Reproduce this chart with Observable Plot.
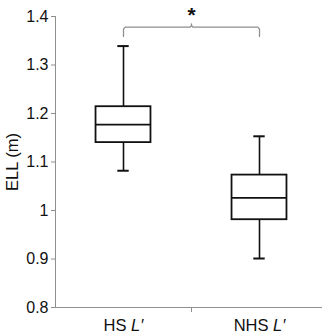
<!DOCTYPE html>
<html>
<head>
<meta charset="utf-8">
<script src="https://cdn.jsdelivr.net/npm/d3@7"></script>
<script src="https://cdn.jsdelivr.net/npm/@observablehq/plot@0.6"></script>
<style>
  html, body { margin: 0; padding: 0; background: #fff; }
  #chart svg { display: block; font-family: "Liberation Sans", Arial, sans-serif; }
</style>
</head>
<body>
<div id="chart"></div>
<script>
// ---- data ----
const categories = ["HS L′", "NHS L′"];
const whiskerLow  = [1.082, 0.901];
const q1          = [1.140, 0.981];
const median      = [1.177, 1.026];
const q3          = [1.214, 1.073];
const whiskerHigh = [1.339, 1.153];
const yTicks      = [0.8, 0.9, 1.0, 1.1, 1.2, 1.3, 1.4];
const yTickLabels = ["0.8", "0.9", "1", "1.1", "1.2", "1.3", "1.4"];
const comparisons = [{from: 0, to: 1, label: "*"}];
const yLabel = "ELL (m)";

// ---- build table ----
const boxes = categories.map((c, i) => ({
  cat: c, pos: i + 0.5,
  lo: whiskerLow[i], q1: q1[i], med: median[i], q3: q3[i], hi: whiskerHigh[i]
}));

const boxHalf = 0.202, capHalf = 0.042;
const axisColor = "#8f8f8f";
const ink = "#111";

// bracket geometry derived from comparisons
const bracketY = 1.378, bracketEnd = 1.359, bracketPeak = 1.385, r = 0.012;
const bracketPts = [];
comparisons.forEach((c, k) => {
  const a = boxes[c.from].pos, b = boxes[c.to].pos, m = (a + b) / 2;
  const pts = [
    [a, bracketEnd], [a, bracketY - 0.004], [a + r, bracketY],
    [m - r, bracketY], [m, bracketY + 0.003], [m, bracketPeak],
    [m, bracketY + 0.003], [m + r, bracketY],
    [b - r, bracketY], [b, bracketY - 0.004], [b, bracketEnd]
  ];
  pts.forEach(p => bracketPts.push({x: p[0], y: p[1], k}));
});
const starData = comparisons.map(c => ({x: (boxes[c.from].pos + boxes[c.to].pos) / 2, y: 1.4, label: c.label}));
const dividers = categories.slice(1).map((c, i) => i + 1);

const chart = Plot.plot({
  width: 322,
  height: 334,
  marginLeft: 55,
  marginRight: 0,
  marginTop: 16,
  marginBottom: 27,
  style: {fontFamily: "Liberation Sans, Arial, sans-serif", fontSize: "15px", background: "#fff"},
  x: {type: "linear", domain: [0, 2], range: [55, 327], axis: null},
  y: {domain: [0.8, 1.4], range: [307, 16], axis: null},
  marks: [
    // axes lines
    Plot.ruleX([0], {y1: 0.8, y2: 1.4, stroke: axisColor, strokeWidth: 1}),
    Plot.ruleY([0.8], {x1: 0, x2: 2, stroke: axisColor, strokeWidth: 1}),
    Plot.axisY({
      ticks: yTicks, tickSize: 4, tickPadding: 3, stroke: axisColor,
      tickFormat: (d, i) => yTickLabels[i], fill: "#111", fontSize: 16,
      label: null
    }),
    Plot.axisX({
      ticks: dividers, tickSize: 5, tickFormat: () => "", stroke: axisColor, label: null
    }),
    Plot.text([yLabel], {
      frameAnchor: "left", dx: -43, rotate: -90, text: d => d,
      fontSize: 16.5, fill: "#111", textAnchor: "middle"
    }),
    // whiskers
    Plot.ruleX(boxes, {x: "pos", y1: "q3", y2: "hi", stroke: ink, strokeWidth: 1.6}),
    Plot.ruleX(boxes, {x: "pos", y1: "lo", y2: "q1", stroke: ink, strokeWidth: 1.6}),
    Plot.ruleY(boxes, {y: "hi", x1: d => d.pos - capHalf, x2: d => d.pos + capHalf, stroke: ink, strokeWidth: 2}),
    Plot.ruleY(boxes, {y: "lo", x1: d => d.pos - capHalf, x2: d => d.pos + capHalf, stroke: ink, strokeWidth: 2}),
    // boxes
    Plot.rect(boxes, {x1: d => d.pos - boxHalf, x2: d => d.pos + boxHalf, y1: "q1", y2: "q3", fill: "#fff", stroke: ink, strokeWidth: 1.8}),
    Plot.ruleY(boxes, {y: "med", x1: d => d.pos - boxHalf, x2: d => d.pos + boxHalf, stroke: ink, strokeWidth: 1.8}),
    // bracket
    Plot.line(bracketPts, {x: "x", y: "y", z: "k", stroke: axisColor, strokeWidth: 1.3, curve: "linear"}),
    Plot.text(starData, {x: "x", y: "y", text: "label", fontSize: 21, fontWeight: "bold", fill: "#111", dy: 5, lineAnchor: "bottom"}),
    // x labels
    Plot.text(boxes, {x: "pos", y: 0.8, text: "cat", dy: 18, fontSize: 16.5, fill: "#111", className: "xlab"})
  ]
});

document.getElementById("chart").appendChild(chart);

// italicize the L′ part of category labels
d3.select(chart).selectAll(".xlab text").each(function() {
  const t = d3.select(this);
  const s = t.text();
  const idx = s.indexOf(" ");
  t.text(null);
  t.append("tspan").text(s.slice(0, idx + 1));
  t.append("tspan").attr("font-style", "italic").text(s.slice(idx + 1));
});
</script>
</body>
</html>
